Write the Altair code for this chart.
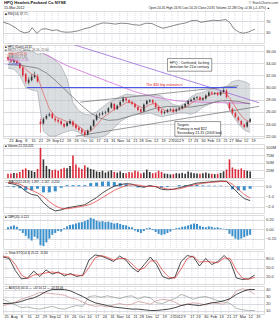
import altair as alt
import pandas as pd

FONT = "Liberation Sans"
W = 261
XMAX = 170
BG = "#d9d9ea"
RED = "#dd2a3a"
DARK = "#333333"
BLUE = "#3b8fcb"

# trading-day index: 0 = 21 Jul 2011
weeks = [2, 7, 12, 17, 22, 27, 32, 36, 41, 46, 51, 56, 61, 66, 71, 76, 81, 86, 90, 95,
         100, 105, 110, 114, 118, 123, 127, 132, 137, 142, 147, 151, 156, 161, 166]
week_lbl = ['25', 'Aug', '8', '15', '22', '29', 'Sep', '12', '19', '26', 'Oct', '10', '17', '24',
            '31', 'Nov', '14', '21', '28', 'Dec', '12', '19', '27', '2012', '9', '17', '23', '30',
            'Feb', '13', '21', '27', 'Mar', '12', '19']

# ---- daily candles (every 2nd session) ----
p_idx = list(range(0, 165, 2))
p_open = [35.0, 34.5, 34.2, 34.3, 33.9, 33.3, 32.2, 30.8, 31.2, 31.7,
          31.8, 24.4, 24.1, 24.9, 25.4, 25.7, 24.9, 24.7, 24.5, 24.0,
          23.7, 24.1, 24.4, 23.9, 23.4, 23.1, 22.7, 22.3, 23.0, 23.7,
          24.7, 25.5, 25.6, 25.8, 26.0, 26.7, 27.3, 26.5, 27.1, 27.7,
          28.2, 27.9, 27.6, 27.3, 26.8, 26.4, 26.1, 27.3, 27.7, 27.9,
          27.4, 26.8, 26.2, 25.8, 26.0, 26.3, 26.4, 26.1, 26.4, 26.6,
          26.9, 27.3, 27.8, 28.0, 28.3, 28.4, 28.0, 28.2, 28.7, 29.2,
          29.0, 29.1, 28.8, 29.3, 29.5, 27.4, 26.5, 25.8, 25.1, 24.5,
          23.9, 23.6, 24.4]
p_high = [35.3, 34.8, 34.7, 34.5, 34.1, 33.5, 32.4, 31.7, 32.2, 32.6,
          32.2, 24.9, 25.1, 25.6, 25.9, 25.9, 25.2, 24.9, 24.7, 24.2,
          24.4, 24.8, 24.6, 24.1, 23.6, 23.3, 22.9, 23.1, 23.8, 24.8,
          25.7, 25.9, 26.1, 26.2, 26.8, 27.6, 27.5, 27.2, 27.9, 28.5,
          28.4, 28.1, 27.8, 27.5, 27.0, 26.6, 27.4, 28.0, 28.1, 28.1,
          27.6, 27.0, 26.4, 26.2, 26.5, 26.6, 26.6, 26.6, 26.8, 27.1,
          27.5, 28.0, 28.2, 28.5, 28.6, 28.6, 28.4, 28.9, 29.4, 29.4,
          29.3, 29.3, 29.5, 29.9, 29.7, 27.6, 26.7, 26.0, 25.3, 24.7,
          24.1, 24.5, 25.0]
p_low = [34.4, 34.1, 34.0, 33.8, 33.0, 31.7, 30.6, 30.5, 31.0, 31.5,
         30.8, 22.6, 23.9, 24.7, 25.2, 24.8, 24.3, 24.1, 23.8, 23.3,
         23.5, 23.9, 23.5, 23.1, 22.8, 22.3, 21.9, 22.1, 22.8, 23.5,
         24.5, 25.2, 25.4, 25.6, 25.8, 26.5, 26.2, 26.3, 26.9, 27.5,
         27.7, 27.4, 27.1, 26.6, 26.1, 25.7, 25.9, 27.1, 27.5, 27.3,
         26.6, 26.0, 25.5, 25.6, 25.8, 26.1, 25.8, 25.9, 26.2, 26.4,
         26.7, 27.1, 27.6, 27.9, 28.1, 27.8, 27.8, 28.0, 28.5, 28.8,
         28.8, 28.6, 28.6, 29.1, 28.2, 26.2, 25.5, 25.0, 24.4, 23.7,
         23.3, 23.4, 24.2]
p_close = [34.6, 34.3, 34.4, 34.0, 33.2, 32.0, 31.0, 31.3, 31.8, 32.0,
           31.0, 24.0, 24.8, 25.3, 25.6, 25.0, 24.6, 24.4, 24.0, 23.6,
           24.2, 24.5, 23.8, 23.3, 23.0, 22.6, 22.2, 22.9, 23.6, 24.6,
           25.4, 25.6, 25.8, 25.9, 26.6, 27.4, 26.4, 27.0, 27.6, 28.2,
           27.9, 27.6, 27.3, 26.8, 26.3, 26.0, 27.2, 27.8, 27.9, 27.5,
           26.8, 26.2, 25.8, 26.0, 26.3, 26.4, 26.0, 26.4, 26.6, 26.9,
           27.3, 27.8, 28.0, 28.3, 28.4, 28.0, 28.2, 28.7, 29.2, 29.0,
           29.1, 28.8, 29.3, 29.6, 28.4, 26.6, 25.8, 25.2, 24.6, 23.9,
           23.5, 24.3, 24.8]
volume_m = [14, 15, 17, 16, 20, 28, 32, 26, 24, 20,
            30, 100, 62, 40, 30, 26, 28, 24, 30, 34,
            32, 40, 75, 45, 35, 30, 42, 35, 30, 28,
            22, 20, 24, 18, 22, 26, 20, 18, 22, 17,
            16, 20, 18, 25, 22, 15, 18, 28, 20, 16,
            18, 24, 20, 15, 14, 12, 13, 16, 15, 17,
            14, 22, 18, 16, 15, 14, 16, 18, 15, 14,
            13, 14, 17, 22, 28, 62, 35, 30, 28, 32,
            26, 24, 22]
hist2 = [0.04, 0.06, 0.08, 0.05, -0.03, -0.08, -0.14, -0.20, -0.24, -0.16,
         -0.20, -0.34, -0.36, -0.28, -0.20, -0.12, -0.08, -0.04, -0.05, 0.02,
         0.06, 0.09, 0.10, 0.12, 0.14, 0.15, 0.17, 0.20, 0.24, 0.22,
         0.18, 0.16, 0.17, 0.15, 0.16, 0.14, 0.12, 0.13, 0.11, 0.09,
         0.08, 0.05, 0.04, -0.03, -0.06, -0.08, -0.04, 0.02, 0.03, -0.02,
         -0.06, -0.10, -0.12, -0.11, -0.08, -0.05, -0.01, 0.02, 0.03, 0.05,
         0.06, 0.08, 0.10, 0.12, 0.11, 0.07, 0.05, 0.04, 0.06, 0.05,
         0.03, 0.04, 0.02, 0.01, -0.02, -0.10, -0.15, -0.20, -0.22, -0.20,
         -0.17, -0.14, -0.12]

# ---- indicators (every 4th session) ----
s4_idx = list(range(0, 165, 4))
bb_up = [35.6, 35.6, 35.8, 36.2, 36.0, 35.5, 35.6, 35.2, 34.5, 33.5,
         31.5, 27.5, 26.2, 25.6, 25.5, 26.0, 26.8, 27.5, 28.0, 28.5,
         28.9, 28.8, 28.7, 28.6, 28.7, 28.8, 28.6, 27.8, 27.2, 27.0,
         27.4, 28.5, 29.0, 29.2, 29.6, 29.8, 30.0, 30.2, 31.0, 31.2,
         31.0, 30.5]
bb_lo = [33.2, 33.0, 32.0, 30.0, 29.6, 29.4, 22.8, 22.0, 22.0, 22.4,
         22.8, 23.0, 22.6, 21.9, 21.8, 21.8, 21.9, 22.4, 23.4, 24.4,
         25.0, 25.6, 25.6, 25.6, 25.8, 25.5, 25.2, 25.4, 25.6, 25.8,
         25.8, 25.6, 26.0, 26.8, 27.2, 27.6, 28.0, 27.5, 25.5, 24.0,
         23.0, 22.6]
ma_fast = [34.6, 34.5, 34.0, 33.0, 32.2, 31.8, 29.0, 26.5, 25.2, 24.8,
           24.4, 24.1, 23.6, 22.9, 22.8, 23.8, 25.0, 25.7, 26.4, 26.9,
           27.5, 27.6, 27.0, 26.6, 27.2, 27.4, 26.5, 26.1, 26.2, 26.4,
           26.7, 27.4, 28.0, 28.2, 28.7, 29.0, 29.1, 29.0, 27.6, 26.0,
           24.8, 24.3]
macd = [0.3, 0.2, 0.0, -0.5, -0.8, -0.9, -1.6, -2.1, -2.4, -2.3,
        -2.1, -2.0, -1.9, -1.8, -1.45, -1.1, -0.65, -0.3, 0.0, 0.15,
        0.25, 0.2, 0.0, -0.1, 0.05, -0.05, -0.3, -0.35, -0.3, -0.15,
        0.0, 0.15, 0.3, 0.35, 0.4, 0.45, 0.5, 0.45, -0.1, -0.7,
        -1.2, -1.4]
macd_sig = [0.35, 0.3, 0.2, -0.1, -0.4, -0.65, -1.0, -1.5, -1.9, -2.15,
            -2.2, -2.1, -2.0, -1.9, -1.75, -1.45, -1.1, -0.75, -0.4, -0.15,
            0.05, 0.15, 0.12, 0.0, -0.02, -0.02, -0.15, -0.28, -0.3, -0.25,
            -0.1, 0.05, 0.18, 0.28, 0.35, 0.4, 0.45, 0.47, 0.2, -0.3,
            -0.8, -1.15]
macd_hist = [-0.05, -0.1, -0.2, -0.4, -0.4, -0.25, -0.6, -0.6, -0.5, -0.15,
             0.1, 0.1, 0.1, 0.1, 0.3, 0.35, 0.45, 0.45, 0.4, 0.3,
             0.2, 0.05, -0.12, -0.1, 0.07, -0.03, -0.15, -0.07, 0.0, 0.1,
             0.1, 0.1, 0.12, 0.07, 0.05, 0.05, 0.05, -0.02, -0.3, -0.4,
             -0.4, -0.25]
sto_k = [85, 80, 40, 12, 15, 38, 20, 42, 28, 35,
         22, 30, 20, 25, 75, 92, 88, 80, 70, 88,
         75, 50, 35, 60, 85, 60, 20, 12, 18, 70,
         90, 85, 55, 80, 60, 70, 90, 70, 15, 10,
         12, 25]
sto_d = [88, 84, 60, 25, 13, 25, 28, 32, 35, 32,
         28, 26, 25, 22, 50, 82, 90, 84, 75, 80,
         80, 62, 42, 48, 72, 72, 40, 18, 14, 45,
         80, 88, 68, 70, 68, 66, 82, 80, 40, 14,
         11, 17]
adx = [20, 20, 21, 23, 26, 28, 32, 37, 40, 40,
       40, 38, 34, 30, 25, 21, 19, 17, 15, 14,
       13, 12, 12, 11, 10, 10, 11, 12, 14, 17,
       19, 18, 17, 19, 21, 22, 24, 27, 33, 37,
       40, 40]
di_plus = [26, 22, 18, 14, 15, 13, 12, 14, 16, 13,
           12, 15, 17, 16, 30, 31, 29, 31, 29, 27,
           30, 31, 26, 30, 28, 21, 20, 24, 27, 33,
           30, 26, 29, 30, 27, 24, 22, 20, 13, 11,
           10, 10]
di_minus = [17, 19, 22, 26, 29, 32, 36, 35, 34, 33,
            32, 28, 26, 22, 18, 16, 17, 15, 18, 20,
            18, 19, 23, 21, 19, 24, 26, 25, 22, 17,
            19, 21, 20, 18, 21, 20, 19, 27, 38, 41,
            39, 33]

rsi_idx = [0, 4, 8, 11, 14, 17, 19, 22, 25, 28, 32, 35, 38, 41, 45, 49, 53, 57, 61, 65,
           69, 73, 77, 81, 85, 89, 93, 97, 101, 104, 107, 111, 115, 119, 123, 126, 129,
           133, 137, 141, 145, 148, 150, 152, 154, 156, 158, 160, 162, 164]
rsi_val = [67, 60, 48, 36, 30, 33, 48, 28, 42, 44, 38, 40, 34, 32, 33, 37, 44, 49, 58, 64,
           63, 60, 63, 62, 58, 56, 63, 62, 52, 46, 49, 55, 60, 64, 72, 73, 66,
           70, 73, 72, 76, 64, 46, 38, 32, 29, 30, 33, 38, 42]

ma50_idx = [0, 10, 20, 26, 32, 38, 44, 50, 56, 62, 68, 74, 80, 86, 92, 100, 108, 116, 124,
            132, 140, 148, 156, 164]
ma50_val = [33.8, 33.6, 33.2, 32.4, 31.2, 29.8, 28.4, 27.0, 25.8, 25.0, 24.6, 24.7, 25.1,
            25.5, 26.0, 26.6, 26.9, 26.8, 26.8, 27.1, 27.6, 27.9, 27.7, 27.3]
ma200_idx = [24, 40, 57, 72, 86, 100, 115, 130, 145, 164]
ma200_val = [35.6, 33.6, 32.0, 30.6, 29.3, 28.4, 27.8, 27.6, 27.5, 27.4]

trend_idx = [44, 170]
trend_val = [37.1, 27.5]
chan_up_idx = [49, 156]
chan_up_val = [27.6, 30.3]
chan_lo_idx = [46, 170]
chan_lo_val = [22.0, 26.9]
resist_idx = [13, 155]
resist_val = [30.0, 30.0]

box_x1 = [108, 113]
box_x2 = [138, 144]
box_y1 = [34.77, 24.4]
box_y2 = [32.69, 22.0]
note_idx = [109.5, 109.5, 114.5, 114.5, 114.5]
note_val = [34.1, 33.3, 23.85, 23.15, 22.45]
note_txt = ["HPQ - Confused, lacking", "direction for 21st century",
            "Targets", "Primary is mid $22", "Secondary 21.31 (2003 low)"]

# ---------------- build ----------------
xs = alt.Scale(domain=[0, XMAX], nice=False, zero=False)
label_expr = ("[" + ",".join("'%s'" % s for s in week_lbl) + "][indexof([" +
              ",".join(str(w) for w in weeks) + "], datum.value)]")
ax_date = alt.Axis(values=weeks, labelExpr=label_expr, orient="bottom", labelFontSize=3.8,
                   labelFont=FONT, labelColor="#222", labelPadding=0.5, ticks=False,
                   domain=False, grid=False, labelOverlap=False, labelFlush=False, title=None)

ONE = pd.DataFrame({"z": [0]})


def txt(s, x, y, size=3.3, color="#111", align="left", weight="normal"):
    return alt.Chart(ONE).mark_text(text=s, align=align, baseline="top", fontSize=size,
                                    font=FONT, color=color, fontWeight=weight).encode(
        x=alt.value(x), y=alt.value(y))


def yaxis(vals, fmt=None, expr=None):
    kw = dict(orient="right", values=vals, labelFontSize=4.0, labelFont=FONT, labelColor="#333",
              ticks=False, domain=False, grid=True, gridColor="#a3a3b6", gridWidth=0.4,
              labelPadding=1.5, title=None)
    if fmt:
        kw["format"] = fmt
    if expr:
        kw["labelExpr"] = expr
    return alt.Axis(**kw)


def wgrid(xax):
    return alt.Chart(pd.DataFrame({"w": weeks})).mark_rule(
        color="#b9b9cb", strokeWidth=0.5, strokeDash=[1, 1]).encode(
        x=alt.X("w:Q", scale=xs, axis=xax))


price_df = pd.DataFrame({"i": p_idx, "o": p_open, "h": p_high, "l": p_low, "c": p_close,
                         "v": volume_m, "h2": hist2})
ind_df = pd.DataFrame({"i": s4_idx, "bu": bb_up, "bl": bb_lo, "mf": ma_fast, "m": macd,
                       "s": macd_sig, "mh": macd_hist, "k": sto_k, "d": sto_d, "adx": adx,
                       "pdi": di_plus, "mdi": di_minus})
candle_color = alt.condition("datum.c < datum.o", alt.value(RED), alt.value(DARK))


def line(df, xf, yf, ys, ay, xax, color, width=0.7, dash=None):
    kw = dict(color=color, strokeWidth=width, clip=True)
    if dash:
        kw["strokeDash"] = dash
    return alt.Chart(df).mark_line(**kw).encode(
        x=alt.X(xf + ":Q", scale=xs, axis=xax),
        y=alt.Y(yf + ":Q", scale=ys, axis=ay))


# ---- RSI ----
ys_r = alt.Scale(domain=[-5, 105], nice=False, zero=False)
ay_r = yaxis([30, 70], fmt="d")
rsi_df = pd.DataFrame({"i": rsi_idx, "r": rsi_val})
rsi_panel = alt.layer(
    wgrid(None),
    line(rsi_df, "i", "r", ys_r, ay_r, None, "#555555", 0.7),
    txt("\u25a0 RSI(14) 37.71", 2, 0.8, 3.2),
    txt("HPQ Hewlett-Packard Co NYSE", 1, -10, 4.2, "#111", weight="bold"),
    txt("15-Mar-2012", 1, -5.3, 3.6),
    txt("\u00a9 StockCharts.com", W + 14, -10, 3.4, "#333", align="right"),
    txt("Open 24.45 High 24.95 Low 24.20 Close 24.81 Volume 22.2M Chg +0.36 (+1.47%) \u25b2",
        W + 6, -5.3, 3.2, "#222", align="right"),
).properties(width=W, height=32)

# ---- Price ----
ys_p = alt.Scale(domain=[21.7, 37.0], nice=False, zero=False)
ay_p = yaxis([22, 24, 26, 28, 30, 32, 34, 36], fmt=".2f")
ma50_df = pd.DataFrame({"i": ma50_idx, "p": ma50_val})
ma200_df = pd.DataFrame({"i": ma200_idx, "p": ma200_val})
trend_df = pd.DataFrame({"i": trend_idx, "p": trend_val})
cu_df = pd.DataFrame({"i": chan_up_idx, "p": chan_up_val})
cl_df = pd.DataFrame({"i": chan_lo_idx, "p": chan_lo_val})
res_df = pd.DataFrame({"i": resist_idx, "p": resist_val})
box_df = pd.DataFrame({"x1": box_x1, "x2": box_x2, "y1": box_y1, "y2": box_y2})
note_df = pd.DataFrame({"i": note_idx, "p": note_val, "t": note_txt})

price_panel = alt.layer(
    wgrid(ax_date),
    alt.Chart(ind_df).mark_area(color="#bcc2c6", opacity=0.55).encode(
        x=alt.X("i:Q", scale=xs, axis=ax_date), y=alt.Y("bu:Q", scale=ys_p, axis=ay_p),
        y2="bl:Q"),
    line(ind_df, "i", "bu", ys_p, ay_p, ax_date, "#8c9196", 0.5),
    line(ind_df, "i", "bl", ys_p, ay_p, ax_date, "#8c9196", 0.5),
    line(ma200_df, "i", "p", ys_p, ay_p, ax_date, "#d070d8", 0.8),
    line(trend_df, "i", "p", ys_p, ay_p, ax_date, "#9a6ad8", 0.8),
    line(cu_df, "i", "p", ys_p, ay_p, ax_date, "#555555", 0.6),
    line(cl_df, "i", "p", ys_p, ay_p, ax_date, "#555555", 0.6),
    line(res_df, "i", "p", ys_p, ay_p, ax_date, "#4050e8", 1.0),
    line(ma50_df, "i", "p", ys_p, ay_p, ax_date, "#666666", 0.7),
    line(ind_df, "i", "mf", ys_p, ay_p, ax_date, "#e04848", 0.6),
    alt.Chart(price_df).mark_rule(strokeWidth=0.6).encode(
        x=alt.X("i:Q", scale=xs, axis=ax_date), y=alt.Y("l:Q", scale=ys_p, axis=ay_p),
        y2="h:Q", color=candle_color),
    alt.Chart(price_df).mark_bar(size=1.6).encode(
        x=alt.X("i:Q", scale=xs, axis=ax_date), y=alt.Y("o:Q", scale=ys_p, axis=ay_p),
        y2="c:Q", color=candle_color),
    alt.Chart(box_df).mark_rect(fill="white", stroke="#333333", strokeWidth=0.5).encode(
        x=alt.X("x1:Q", scale=xs, axis=ax_date), x2="x2:Q",
        y=alt.Y("y1:Q", scale=ys_p, axis=ay_p), y2="y2:Q"),
    alt.Chart(note_df).mark_text(align="left", baseline="middle", fontSize=3.6, font=FONT,
                                 color="#111").encode(
        x=alt.X("i:Q", scale=xs, axis=ax_date), y=alt.Y("p:Q", scale=ys_p, axis=ay_p),
        text="t:N"),
    alt.Chart(pd.DataFrame({"i": [93.5], "p": [30.15], "t": ["The $30 big resistance"]}))
    .mark_text(align="left", baseline="bottom", fontSize=3.6, font=FONT, color="#e02020")
    .encode(x=alt.X("i:Q", scale=xs, axis=ax_date), y=alt.Y("p:Q", scale=ys_p, axis=ay_p),
            text="t:N"),
    txt("\u25a0 HPQ (Daily) 24.81", 2, 0.6, 3.0, "#111"),
    txt("\u25a0 BB(20,2.0) 30.52, 26.56, 22.60", 2, 4.0, 3.0, "#555"),
    txt("\u2014 MA(10) 24.30", 2, 7.4, 3.0, "#e04848"),
    txt("\u2014 MA(50) 27.31", 2, 10.8, 3.0, "#666"),
    txt("\u2014 MA(200) 27.45", 2, 14.2, 3.0, "#c060c8"),
    txt("\u2014 Trendline", 2, 17.6, 3.0, "#4050e8"),
).properties(width=W, height=93)

# ---- Volume ----
ys_v = alt.Scale(domain=[0, 113], nice=False, zero=True)
ay_v = yaxis([25, 50, 75, 100], expr="datum.value + 'M'")
vol_panel = alt.layer(
    wgrid(None),
    alt.Chart(price_df).mark_bar(size=1.6).encode(
        x=alt.X("i:Q", scale=xs, axis=None), y=alt.Y("v:Q", scale=ys_v, axis=ay_v),
        color=candle_color),
    txt("\u25a0 Volume 22,155,621", 2, 0.8, 3.0),
).properties(width=W, height=34)

# ---- MACD ----
ys_m = alt.Scale(domain=[-2.6, 0.6], nice=False, zero=False)
ay_m = yaxis([-2, -1, 0], fmt=".1f")
macd_panel = alt.layer(
    wgrid(None),
    alt.Chart(ind_df).mark_bar(size=3, color=BLUE).encode(
        x=alt.X("i:Q", scale=xs, axis=None), y=alt.Y("mh:Q", scale=ys_m, axis=ay_m),
        y2=alt.datum(0)),
    line(ind_df, "i", "m", ys_m, ay_m, None, "#222222", 0.8),
    line(ind_df, "i", "s", ys_m, ay_m, None, "#e03030", 0.7),
    txt("\u2014 MACD(12,26,9) -1.397, -1.147, -0.250", 2, 0.8, 3.0),
).properties(width=W, height=33)

# ---- Histogram ----
ys_h = alt.Scale(domain=[-0.42, 0.30], nice=False, zero=False)
ay_h = yaxis([-0.2, 0, 0.2], fmt=".2f")
hist_panel = alt.layer(
    wgrid(None),
    alt.Chart(price_df).mark_bar(size=2, color=BLUE).encode(
        x=alt.X("i:Q", scale=xs, axis=None), y=alt.Y("h2:Q", scale=ys_h, axis=ay_h),
        y2=alt.datum(0)),
    txt("\u25a0 CMF(20) -0.121", 2, 0.8, 3.0),
).properties(width=W, height=34)

# ---- Slow stochastic ----
ys_s = alt.Scale(domain=[-5, 105], nice=False, zero=False)
ay_s = yaxis([20, 50, 80], fmt=".1f")
sto_panel = alt.layer(
    wgrid(None),
    line(ind_df, "i", "k", ys_s, ay_s, None, "#222222", 0.8),
    line(ind_df, "i", "d", ys_s, ay_s, None, "#e03030", 0.7),
    txt("\u2014 Slow STO(14,3) 25.21, 15.84", 2, 0.8, 3.0),
).properties(width=W, height=33)

# ---- ADX ----
ys_a = alt.Scale(domain=[5, 45], nice=False, zero=False)
ay_a = yaxis([10, 20, 30, 40], fmt="d")
adx_panel = alt.layer(
    wgrid(ax_date),
    line(ind_df, "i", "pdi", ys_a, ay_a, ax_date, "#8f9a8f", 0.7),
    line(ind_df, "i", "mdi", ys_a, ay_a, ax_date, "#c79090", 0.7),
    line(ind_df, "i", "adx", ys_a, ay_a, ax_date, "#333333", 0.9),
    txt("\u2014 ADX(14) 40.11  \u2014 +DI 10.12  \u2014 -DI 33.06", 2, 0.8, 3.0),
).properties(width=W, height=28)

chart = alt.vconcat(
    rsi_panel, price_panel, vol_panel, macd_panel, hist_panel, sto_panel, adx_panel,
    spacing=0
).properties(
    padding={"left": 2, "top": 0, "right": 0, "bottom": 0}
).configure_view(
    fill=BG, stroke="#555555", strokeWidth=0.5
).configure(background="white")

chart.save("out.html", embed_options={"renderer": "svg", "actions": False})
